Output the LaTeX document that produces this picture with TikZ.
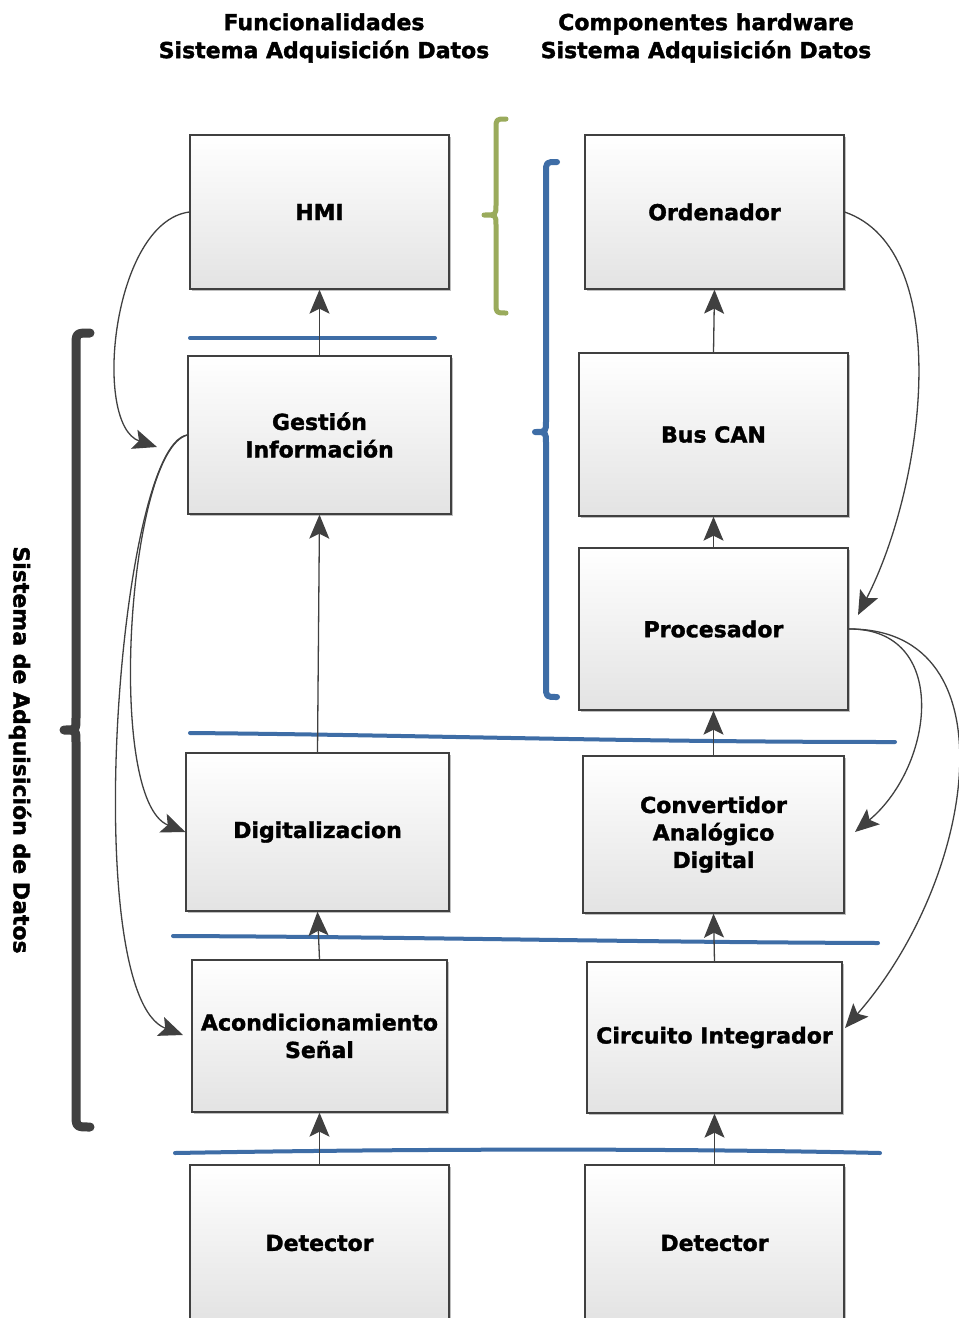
\documentclass[tikz,border=0pt]{standalone}
\usepackage{fontspec}
\setmainfont{DejaVu Sans}[BoldFeatures={FakeBold=1.6}]
\usetikzlibrary{arrows.meta,shadows}

\definecolor{boxline}{HTML}{404040}
\definecolor{sepblue}{HTML}{3E6DA6}
\definecolor{bracegreen}{HTML}{9AAB5C}
\definecolor{bracedark}{HTML}{404040}

\begin{document}
\begin{tikzpicture}[x=1pt,y=-1pt,
  blk/.style={draw=boxline, line width=1.3pt, top color=white, bottom color=black!11,
    drop shadow={shadow xshift=2pt, shadow yshift=-2pt, opacity=0.25, fill=black},
    align=center, inner sep=0pt,
    font=\fontsize{22}{27.5}\selectfont\bfseries},
  ttl/.style={align=center, inner sep=0pt, font=\fontsize{22}{28}\selectfont\bfseries},
  arr/.style={draw=boxline, line width=1.3pt, -{Stealth[length=24pt,width=20pt,inset=5pt]}},
  sep/.style={draw=sepblue, line width=4pt, line cap=round},
  brc/.style={line width=#1, line cap=round, line join=round}
]
% canvas
\fill[white] (0,0) rectangle (959,1318);
\useasboundingbox (0,0) rectangle (959,1318);

% column headings
\node[ttl] (t1) at (324,38) {Funcionalidades\\Sistema Adquisición Datos};
\node[ttl] (t2) at (706,38) {Componentes hardware\\Sistema Adquisición Datos};
\node[rotate=-90, inner sep=0pt, font=\fontsize{22}{26}\selectfont\bfseries] (side) at (20,750)
  {Sistema de Adquisición de Datos};

% functional blocks (left column)
\node[blk, minimum width=259pt, minimum height=154pt] (hmi)   at (319.5,212)  {HMI};
\node[blk, minimum width=263pt, minimum height=158pt] (gest)  at (319.5,435)  {Gestión\\Información};
\node[blk, minimum width=263pt, minimum height=158pt] (digi)  at (317.5,832)  {Digitalizacion};
\node[blk, minimum width=255pt, minimum height=152pt] (acond) at (319.5,1036) {Acondicionamiento\\Señal};
\node[blk, minimum width=259pt, minimum height=156pt] (detl)  at (319.5,1243) {Detector};

% hardware blocks (right column)
\node[blk, minimum width=259pt, minimum height=154pt] (ord)   at (714.5,212)  {Ordenador};
\node[blk, minimum width=269pt, minimum height=163pt] (bus)   at (713.5,434.5) {Bus CAN};
\node[blk, minimum width=269pt, minimum height=162pt] (proc)  at (713.5,629)  {Procesador};
\node[blk, minimum width=261pt, minimum height=157pt] (conv)  at (713.5,834.5) {Convertidor\\Analógico\\Digital};
\node[blk, minimum width=255pt, minimum height=151pt] (circ)  at (714.5,1037.5) {Circuito Integrador};
\node[blk, minimum width=259pt, minimum height=156pt] (detr)  at (714.5,1243) {Detector};

% level separators
\draw[sep] (190,338) -- (435,338);
\draw[sep] (190,733) .. controls (420,735) and (620,742) .. (895,742);
\draw[sep] (173,936) .. controls (420,937) and (620,942) .. (878,943);
\draw[sep] (175,1153) .. controls (400,1149) and (660,1148) .. (880,1153);

% braces
\draw[brc=5pt, bracegreen] (506,119) .. controls (496,119) .. (496,129) -- (496,205)
  .. controls (496,215) .. (484,215) .. controls (496,215) .. (496,225) -- (496,303)
  .. controls (496,313) .. (506,313);
\draw[brc=6pt, sepblue] (557,162) .. controls (546,162) .. (546,173) -- (546,421)
  .. controls (546,432) .. (535,432) .. controls (546,432) .. (546,443) -- (546,686)
  .. controls (546,697) .. (557,697);
\draw[brc=9pt, bracedark] (90,333) .. controls (76,333) .. (76,347) -- (76,718)
  .. controls (76,730) .. (64,730) .. controls (76,730) .. (76,742) -- (76,1113)
  .. controls (76,1127) .. (90,1127);

% vertical flow
\draw[arr] (gest.north) -- (hmi.south);
\draw[arr] (digi.north) -- (gest.south);
\draw[arr] (acond.north) -- (digi.south);
\draw[arr] (detl.north) -- (acond.south);
\draw[arr] (bus.north) -- (ord.south);
\draw[arr] (proc.north) -- (bus.south);
\draw[arr] (conv.north) -- (proc.south);
\draw[arr] (circ.north) -- (conv.south);
\draw[arr] (detr.north) -- (circ.south);

% feedback arrow ends
\coordinate (gin)  at (157,447);
\coordinate (ain)  at (183,1035);
\coordinate (pin)  at (858,615);
\coordinate (cin)  at (855,832);
\coordinate (ciin) at (845,1028);

% feedback and control links
\draw[arr] (hmi.west) .. controls (112,222) and (92,425) .. (gin);
\draw[arr] (gest.west) .. controls (128,450) and (105,800) .. (digi.west);
\draw[arr] (gest.west) .. controls (118,445) and (78,995) .. (ain);
\draw[arr] (ord.east) .. controls (955,250) and (925,485) .. (pin);
\draw[arr] (proc.east) .. controls (950,628) and (935,765) .. (cin);
\draw[arr] (proc.east) .. controls (1015,628) and (975,880) .. (ciin);
\end{tikzpicture}
\end{document}
